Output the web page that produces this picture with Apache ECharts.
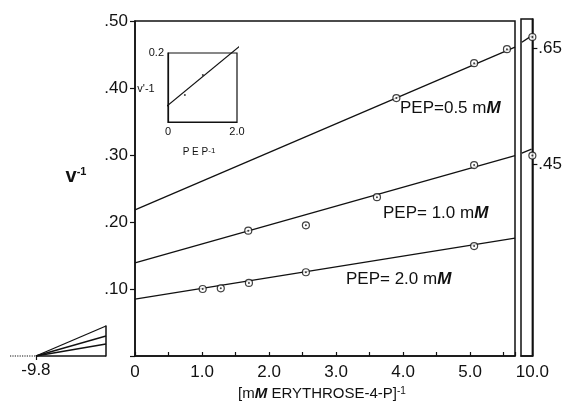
<!DOCTYPE html>
<html><head><meta charset="utf-8">
<script src="https://cdn.jsdelivr.net/npm/echarts@6/dist/echarts.min.js"></script>
<style>html,body{margin:0;padding:0;background:#fff}#c{width:565px;height:408px}</style>
</head><body><div id="c"></div>
<script>
// ---- data ----
const pep05X = [3.9, 5.06, 5.55];
const pep05Y = [0.385, 0.437, 0.458];
const pep10X = [1.69, 2.55, 3.61, 5.06];
const pep10Y = [0.187, 0.195, 0.237, 0.285];
const pep20X = [1.01, 1.28, 1.70, 2.55, 5.06];
const pep20Y = [0.100, 0.101, 0.109, 0.125, 0.164];
// fitted lines (x, y) endpoints in main panel
const fitX = [0, 5.67];
const fit05 = [0.218, 0.461];
const fit10 = [0.139, 0.299];
const fit20 = [0.085, 0.176];
// right (broken-axis) panel at [S]^-1 = 10
const rightLineX = [9.815, 9.985];
const right05Line = [0.660, 0.671];
const right10Line = [0.469, 0.476];
const rightPtX = [10.0];
const right05Pt = [0.669];
const right10Pt = [0.465];
const rightTicks = [0.45, 0.65];
// left panel: extrapolation to x-intercept -9.8
const xIntercept = -9.8;
const leftEndX = -8.8;
const leftMinX = -10.17;
const leftEnds = [0.045, 0.030, 0.018];
// inset: v^-1 vs PEP^-1
const insetLineX = [-0.35, 2.25];
const insetLineY = [0.020, 0.234];
const insetPtX = [0.49, 1.01];
const insetPtY = [0.078, 0.136];

const FONT = 'Liberation Sans';
const BLACK = '#111';
const zip = (xs, ys) => xs.map((x, i) => [x, ys[i]]);

const chart = echarts.init(document.getElementById('c'), null, {renderer: 'canvas'});

const lineS = (data, xi, yi, extra) => Object.assign({
  type: 'line', xAxisIndex: xi, yAxisIndex: yi, data, symbol: 'none', silent: true,
  lineStyle: {color: BLACK, width: 1.3}, clip: false, animation: false
}, extra || {});
const ringS = (data, xi, yi) => ({
  type: 'scatter', xAxisIndex: xi, yAxisIndex: yi, data, symbol: 'circle', symbolSize: 7,
  itemStyle: {color: '#fff', borderColor: BLACK, borderWidth: 1.2}, z: 5, animation: false, clip: false
});
const dotS = (data, xi, yi, size) => ({
  type: 'scatter', xAxisIndex: xi, yAxisIndex: yi, data, symbol: 'circle', symbolSize: size || 2,
  itemStyle: {color: BLACK}, z: 6, animation: false, clip: false
});

const allMain = [].concat(zip(pep05X, pep05Y), zip(pep10X, pep10Y), zip(pep20X, pep20Y));
const allRight = [].concat(zip(rightPtX, right05Pt), zip(rightPtX, right10Pt));

const axisLine = {show: true, lineStyle: {color: BLACK, width: 1.5}};
const lbl = (o) => Object.assign({color: BLACK, fontFamily: FONT, fontSize: 17}, o);

const option = {
  backgroundColor: '#fff',
  animation: false,
  grid: [
    {left: 135, top: 21, width: 380, height: 335, show: true, borderColor: BLACK, borderWidth: 1.5, backgroundColor: 'transparent'},
    {left: 521, top: 19, width: 13, height: 337, show: true, borderColor: BLACK, borderWidth: 1.5, backgroundColor: 'transparent'},
    {left: 10, top: 326, width: 96, height: 30, show: false},
    {left: 168, top: 53, width: 69, height: 69, show: true, borderColor: BLACK, borderWidth: 1.2, backgroundColor: 'transparent'}
  ],
  xAxis: [
    {gridIndex: 0, type: 'value', min: 0, max: 5.67, interval: 0.5,
      axisLine, splitLine: {show: false},
      axisTick: {show: true, inside: true, length: 4, lineStyle: {color: BLACK, width: 1.2}},
      axisLabel: lbl({margin: 8, formatter: v => v === 0 ? '0' : (Math.abs(v - Math.round(v)) < 1e-6 ? v.toFixed(1) : '')})},
    {gridIndex: 1, type: 'value', min: 9.8, max: 10.0,
      axisLine, splitLine: {show: false}, axisTick: {show: false},
      axisLabel: lbl({margin: 8, customValues: rightPtX, formatter: v => v.toFixed(1)})},
    {gridIndex: 2, type: 'value', min: leftMinX, max: leftEndX,
      axisLine: {show: false}, splitLine: {show: false},
      axisTick: {show: true, length: 4, customValues: [xIntercept], lineStyle: {color: BLACK, width: 1.2}},
      axisLabel: lbl({margin: 6, customValues: [xIntercept], formatter: v => v.toFixed(1)})},
    {gridIndex: 3, type: 'value', min: 0, max: 2,
      axisLine: {show: true, lineStyle: {color: BLACK, width: 1.2}}, splitLine: {show: false}, axisTick: {show: false},
      axisLabel: lbl({fontSize: 11, margin: 4, customValues: [0, 2], formatter: v => v === 0 ? '0' : v.toFixed(1)})}
  ],
  yAxis: [
    {gridIndex: 0, type: 'value', min: 0, max: 0.5, interval: 0.1,
      axisLine, splitLine: {show: false},
      axisTick: {show: true, length: 5, lineStyle: {color: BLACK, width: 1.2}},
      axisLabel: lbl({margin: 7, formatter: v => v === 0 ? '' : '.' + Math.round(v * 100)})},
    {gridIndex: 1, type: 'value', position: 'right', min: 0.12, max: 0.70,
      axisLine, splitLine: {show: false},
      axisTick: {show: true, length: 5, customValues: rightTicks, lineStyle: {color: BLACK, width: 1.2}},
      axisLabel: lbl({margin: 6, customValues: rightTicks, formatter: v => '.' + Math.round(v * 100)})},
    {gridIndex: 2, type: 'value', position: 'right', min: 0, max: 0.045,
      axisLine, splitLine: {show: false}, axisTick: {show: false}, axisLabel: {show: false}},
    {gridIndex: 3, type: 'value', min: 0, max: 0.2,
      axisLine: {show: true, lineStyle: {color: BLACK, width: 1.2}}, splitLine: {show: false}, axisTick: {show: false},
      axisLabel: lbl({fontSize: 11, margin: 4, customValues: [0.2], formatter: v => v.toFixed(1)})}
  ],
  series: [
    lineS(zip(fitX, fit05), 0, 0),
    lineS(zip(fitX, fit10), 0, 0),
    lineS(zip(fitX, fit20), 0, 0),
    ringS(allMain, 0, 0),
    dotS(allMain, 0, 0, 2),
    lineS(zip(rightLineX, right05Line), 1, 1),
    lineS(zip(rightLineX, right10Line), 1, 1),
    ringS(allRight, 1, 1),
    dotS(allRight, 1, 1, 2),
    lineS([[leftMinX, 0], [xIntercept, 0]], 2, 2, {lineStyle: {color: BLACK, width: 1.2, type: 'dotted'}}),
    lineS([[xIntercept, 0], [leftEndX, 0]], 2, 2, {lineStyle: {color: BLACK, width: 1.5}}),
    lineS([[xIntercept, 0], [leftEndX, leftEnds[0]]], 2, 2),
    lineS([[xIntercept, 0], [leftEndX, leftEnds[1]]], 2, 2),
    lineS([[xIntercept, 0], [leftEndX, leftEnds[2]]], 2, 2),
    lineS(zip(insetLineX, insetLineY), 3, 3, {lineStyle: {color: BLACK, width: 1.1}}),
    dotS(zip(insetPtX, insetPtY), 3, 3, 2)
  ],
  graphic: [
    {type: 'text', x: 76, y: 176, style: {text: '{v|v}{s|-1}', textAlign: 'center', textVerticalAlign: 'middle',
      rich: {v: {fontFamily: FONT, fontSize: 20, fontWeight: 'bold', fill: BLACK}, s: {fontFamily: FONT, fontSize: 11, fontWeight: 'bold', fill: BLACK, verticalAlign: 'top'}}}},
    {type: 'text', x: 322, y: 394, style: {text: '[m{i|M} ERYTHROSE-4-P]{s|-1}', textAlign: 'center', textVerticalAlign: 'middle',
      fontFamily: FONT, fontSize: 15, fill: BLACK,
      rich: {i: {fontFamily: FONT, fontSize: 15, fontStyle: 'italic', fontWeight: 'bold', fill: BLACK},
             s: {fontFamily: FONT, fontSize: 10, fill: BLACK, verticalAlign: 'top'}}}},
    {type: 'text', x: 400, y: 108, style: {text: 'PEP=0.5 m{i|M}', textAlign: 'left', textVerticalAlign: 'middle',
      fontFamily: FONT, fontSize: 17, fill: BLACK,
      rich: {i: {fontFamily: FONT, fontSize: 17, fontStyle: 'italic', fontWeight: 'bold', fill: BLACK}}}},
    {type: 'text', x: 383, y: 213, style: {text: 'PEP= 1.0 m{i|M}', textAlign: 'left', textVerticalAlign: 'middle',
      fontFamily: FONT, fontSize: 17, fill: BLACK,
      rich: {i: {fontFamily: FONT, fontSize: 17, fontStyle: 'italic', fontWeight: 'bold', fill: BLACK}}}},
    {type: 'text', x: 346, y: 279, style: {text: 'PEP= 2.0 m{i|M}', textAlign: 'left', textVerticalAlign: 'middle',
      fontFamily: FONT, fontSize: 17, fill: BLACK,
      rich: {i: {fontFamily: FONT, fontSize: 17, fontStyle: 'italic', fontWeight: 'bold', fill: BLACK}}}},
    {type: 'text', x: 146, y: 89, style: {text: "v'{s|-1}", textAlign: 'center', textVerticalAlign: 'middle',
      fontFamily: FONT, fontSize: 11, fill: BLACK,
      rich: {s: {fontFamily: FONT, fontSize: 11, fill: BLACK}}}},
    {type: 'text', x: 199, y: 152, style: {text: 'P E P{s|-1}', textAlign: 'center', textVerticalAlign: 'middle',
      fontFamily: FONT, fontSize: 10, fill: BLACK,
      rich: {s: {fontFamily: FONT, fontSize: 8, fill: BLACK, verticalAlign: 'top'}}}}
  ]
};
chart.setOption(option);
</script>
</body></html>
